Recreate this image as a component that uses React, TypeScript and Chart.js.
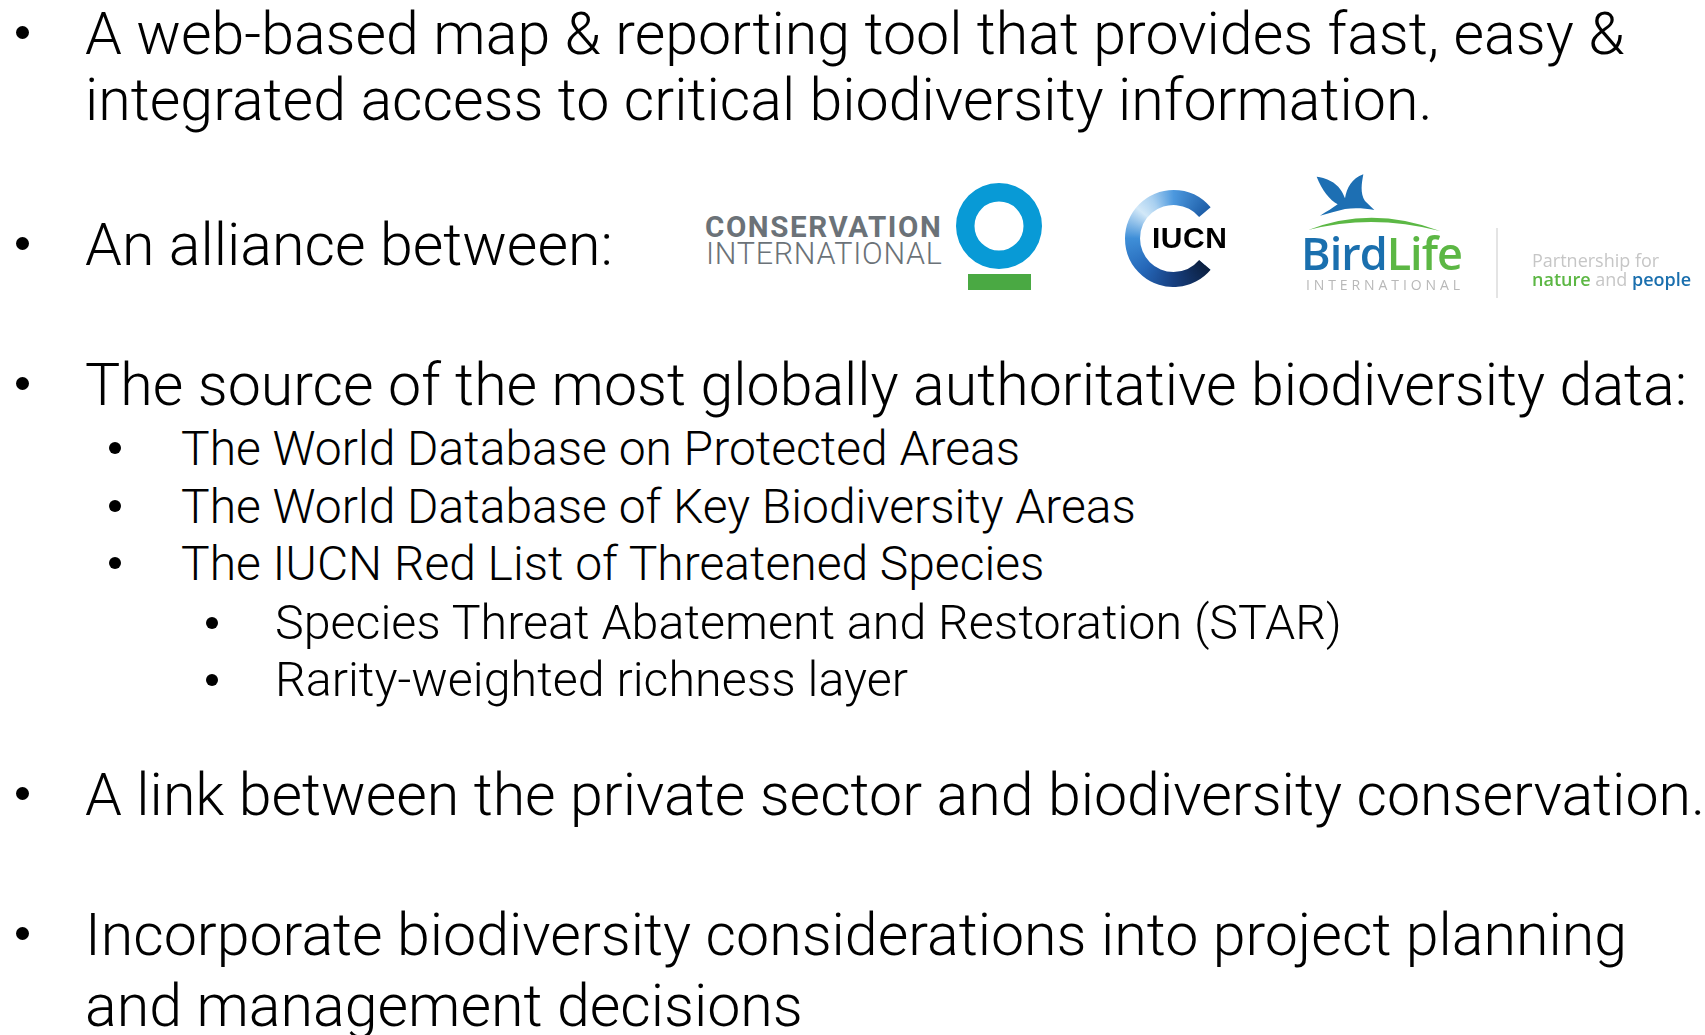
import React, { useEffect, useRef } from "react";
import { Chart, registerables } from "chart.js";

Chart.register(...registerables);

// ---------- content ----------
const mainBullets = [
  ["A web-based map & reporting tool that provides fast, easy &", "integrated access to critical biodiversity information."],
  ["An alliance between:"],
  ["The source of the most globally authoritative biodiversity data:"],
  ["A link between the private sector and biodiversity conservation."],
  ["Incorporate biodiversity considerations into project planning", "and management decisions"],
];
const mainBaselines = [[54, 120], [265], [405], [815], [955, 1026]];

const subBullets = [
  "The World Database on Protected Areas",
  "The World Database of Key Biodiversity Areas",
  "The IUCN Red List of Threatened Species",
];
const subBaselines = [465, 523, 580];

const subSubBullets = [
  "Species Threat Abatement and Restoration (STAR)",
  "Rarity-weighted richness layer",
];
const subSubBaselines = [640, 697];

// logo ring data (degrees of arc)
const ciRingSegments = [360];
const iucnRingSegments = [280, 80];
const iucnGapHalf = 40;
const iucnGradientStops: [number, string][] = [
  [0, "#0b1f3f"],
  [0.14, "#173f80"],
  [0.26, "#2567b8"],
  [0.39, "#3f8fd8"],
  [0.5, "#d2e8f8"],
  [0.56, "#a9d0f0"],
  [0.64, "#4c98de"],
  [0.778, "#1e5ea8"],
];

// font metrics: [ascent, descent] in em
const ROBOTO = [0.9277, 0.2441];
const OPENSANS = [1.069, 0.293];
const LIBSANS = [0.905, 0.212];
const MAIN_FONT = "'Roboto Light', Roboto, sans-serif";

function Txt(props: any) {
  const {
    x,
    base,
    size,
    weight = 300,
    family = MAIN_FONT,
    metric = ROBOTO,
    lh = 1,
    color = "#000",
    style = {},
    children,
  } = props;
  const baseFromTop = (lh + metric[0] - metric[1]) / 2;
  return (
    <div
      style={{
        position: "absolute",
        left: x,
        top: base - baseFromTop * size,
        fontSize: size,
        lineHeight: lh,
        fontFamily: family,
        fontWeight: weight,
        color,
        whiteSpace: "nowrap",
        ...style,
      }}
    >
      {children}
    </div>
  );
}

function Dot({ cx, cy, d }: any) {
  return (
    <div
      style={{
        position: "absolute",
        left: cx - d / 2,
        top: cy - d / 2,
        width: d,
        height: d,
        borderRadius: "50%",
        background: "#000",
      }}
    />
  );
}

function Ring(props: any) {
  const { left, top, w, h, data, colors, cutout, rotation = 0 } = props;
  const ref = useRef<HTMLCanvasElement>(null);
  useEffect(() => {
    if (!ref.current) return;
    const chart = new Chart(ref.current, {
      type: "doughnut",
      data: {
        labels: data.map((_: any, i: number) => "s" + i),
        datasets: [
          {
            data,
            backgroundColor: colors,
            borderWidth: 0,
            hoverOffset: 0,
          },
        ],
      },
      options: {
        responsive: false,
        animation: false,
        cutout,
        rotation,
        layout: { padding: 0 },
        plugins: { legend: { display: false }, tooltip: { enabled: false } },
        events: [],
      },
    });
    return () => chart.destroy();
  }, []);
  return (
    <canvas
      ref={ref}
      width={w}
      height={h}
      style={{ position: "absolute", left, top, width: w, height: h }}
    />
  );
}

function iucnColor(ctx: any) {
  if (ctx.dataIndex !== 0) return "rgba(0,0,0,0)";
  const chart = ctx.chart;
  const a = chart.chartArea;
  if (!a) return "#2567b8";
  const cx = (a.left + a.right) / 2;
  const cy = (a.top + a.bottom) / 2;
  const g = chart.ctx.createConicGradient((iucnGapHalf * Math.PI) / 180, cx, cy);
  iucnGradientStops.forEach(([o, c]) => g.addColorStop(o, c));
  return g;
}

export default function App() {
  return (
    <div
      style={{
        position: "fixed",
        left: 0,
        top: 0,
        width: 1705,
        height: 1035,
        background: "#fff",
        overflow: "hidden",
      }}
    >
      {/* main bullets */}
      {mainBullets.map((lines, i) => (
        <React.Fragment key={"m" + i}>
          <Dot cx={22} cy={mainBaselines[i][0] - 22} d={13} />
          {lines.map((t, j) => (
            <Txt key={j} x={85} base={mainBaselines[i][j]} size={59.1}>
              {t}
            </Txt>
          ))}
        </React.Fragment>
      ))}

      {subBullets.map((t, i) => (
        <React.Fragment key={"s" + i}>
          <Dot cx={115} cy={subBaselines[i] - 17} d={12} />
          <Txt x={181} base={subBaselines[i]} size={48}>
            {t}
          </Txt>
        </React.Fragment>
      ))}

      {subSubBullets.map((t, i) => (
        <React.Fragment key={"ss" + i}>
          <Dot cx={212} cy={subSubBaselines[i] - 17} d={12} />
          <Txt x={275} base={subSubBaselines[i]} size={48.4}>
            {t}
          </Txt>
        </React.Fragment>
      ))}

      {/* Conservation International logo */}
      <Txt
        x={705}
        base={237}
        size={29.5}
        lh={0.75}
        weight={700}
        family="Roboto, sans-serif"
        color="#6b7278"
        style={{ letterSpacing: 1.6 }}
      >
        CONSERVATION
      </Txt>
      <Txt x={706} base={265} size={30.5} lh={0.75} weight={300} color="#6b7278" style={{ letterSpacing: 0.7 }}>
        INTERNATIONAL
      </Txt>
      <Ring left={956} top={183} w={86} h={86} data={ciRingSegments} colors={["#089ad6"]} cutout="57%" />
      <div style={{ position: "absolute", left: 968, top: 274, width: 63, height: 16, background: "#4aa943" }} />

      {/* IUCN logo */}
      <Ring
        left={1125}
        top={190}
        w={97}
        h={97}
        data={iucnRingSegments}
        colors={iucnColor}
        cutout="69%"
        rotation={90 + iucnGapHalf}
      />
      <Txt
        x={1152}
        base={249}
        size={30}
        lh={0.75}
        weight={700}
        family="'Liberation Sans', Arial, sans-serif"
        metric={LIBSANS}
        color="#000"
        style={{ letterSpacing: 0.5 }}
      >
        IUCN
      </Txt>

      {/* BirdLife logo */}
      <svg
        style={{ position: "absolute", left: 1295, top: 165 }}
        width={180}
        height={135}
        viewBox="0 0 540 405"
      >
        <path
          d="M65,35 C100,40 135,55 150,100 C155,70 170,40 205,28 C200,55 195,85 210,108 L238,135 C210,130 180,128 150,132 C125,138 100,145 75,152 C95,140 115,128 128,118 C105,105 80,75 65,35 Z"
          fill="#1d6fb3"
        />
        <path d="M40,195 Q230,120 435,198 Q230,145 40,195 Z" fill="#5cb845" />
      </svg>
      <Txt
        x={1301}
        base={270}
        size={45}
        lh={0.75}
        weight={600}
        family="'Open Sans', sans-serif"
        metric={OPENSANS}
        style={{ letterSpacing: -1 }}
      >
        <span style={{ color: "#1a6fae" }}>Bird</span>
        <span style={{ color: "#5cb744" }}>Life</span>
      </Txt>
      <Txt
        x={1306}
        base={291}
        size={14}
        lh={0.75}
        weight={400}
        family="'Open Sans', sans-serif"
        metric={OPENSANS}
        color="#b8b8b8"
        style={{ letterSpacing: 3.9 }}
      >
        INTERNATIONAL
      </Txt>
      <div style={{ position: "absolute", left: 1496, top: 228, width: 2, height: 70, background: "#e4e4e4" }} />
      <Txt
        x={1532}
        base={268}
        size={18}
        lh={0.75}
        weight={400}
        family="'Open Sans', sans-serif"
        metric={OPENSANS}
        color="#c6c6c6"
      >
        Partnership for
      </Txt>
      <Txt x={1532} base={287} size={18} lh={0.75} weight={600} family="'Open Sans', sans-serif" metric={OPENSANS}>
        <span style={{ color: "#5cb744" }}>nature</span>
        <span style={{ color: "#c6c6c6", fontWeight: 400 }}> and </span>
        <span style={{ color: "#1a6fae" }}>people</span>
      </Txt>
    </div>
  );
}
